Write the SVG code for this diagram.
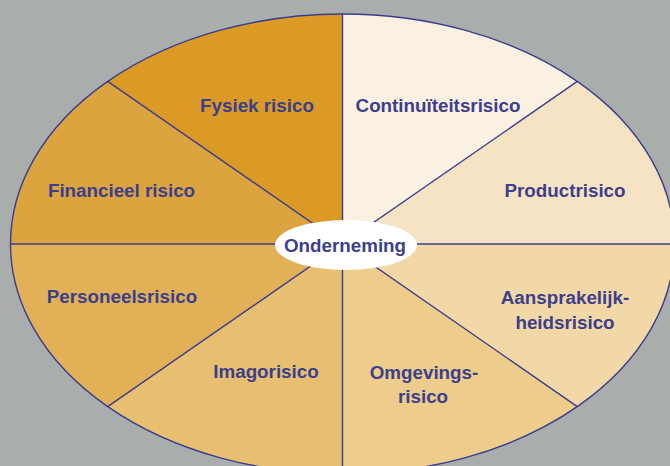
<svg xmlns="http://www.w3.org/2000/svg" width="670" height="466" viewBox="0 0 670 466">
  <style>
    .lbl { font-family: "Liberation Sans", Arial, sans-serif; font-weight: bold; font-size: 18.8px; fill: #3b3f8c; text-anchor: middle; }
    .div { stroke: #3a3d8f; stroke-width: 1.4; fill: none; }
  </style>
  <rect x="0" y="0" width="670" height="466" fill="#a9adac"/>
  <g id="fysiek">
    <path d="M342.5 244 L107.7 81.4 A332 230 0 0 1 342.5 14 Z" fill="#da9a25"/>
    <text class="lbl" x="257" y="112">Fysiek risico</text>
  </g>
  <g id="continuiteit">
    <path d="M342.5 244 L342.5 14 A332 230 0 0 1 577.3 81.4 Z" fill="#fbf1e2"/>
    <text class="lbl" x="438" y="112">Continuïteitsrisico</text>
  </g>
  <g id="product">
    <path d="M342.5 244 L577.3 81.4 A332 230 0 0 1 674.5 244 Z" fill="#f6e3c3"/>
    <text class="lbl" x="565" y="197">Productrisico</text>
  </g>
  <g id="aansprakelijkheid">
    <path d="M342.5 244 L674.5 244 A332 230 0 0 1 577.3 406.6 Z" fill="#f2d8a6"/>
    <text class="lbl" x="565" y="304">Aansprakelijk-</text>
    <text class="lbl" x="565" y="329">heidsrisico</text>
  </g>
  <g id="omgeving">
    <path d="M342.5 244 L577.3 406.6 A332 230 0 0 1 342.5 474 Z" fill="#eecc8c"/>
    <text class="lbl" x="424" y="379">Omgevings-</text>
    <text class="lbl" x="423" y="403">risico</text>
  </g>
  <g id="imago">
    <path d="M342.5 244 L342.5 474 A332 230 0 0 1 107.7 406.6 Z" fill="#e8bf70"/>
    <text class="lbl" x="266" y="378">Imagorisico</text>
  </g>
  <g id="personeel">
    <path d="M342.5 244 L107.7 406.6 A332 230 0 0 1 10.5 244 Z" fill="#e2b056"/>
    <text class="lbl" x="122" y="303">Personeelsrisico</text>
  </g>
  <g id="financieel">
    <path d="M342.5 244 L10.5 244 A332 230 0 0 1 107.7 81.4 Z" fill="#dca43f"/>
    <text class="lbl" x="121.5" y="197">Financieel risico</text>
  </g>
  <g id="connectors">
    <ellipse class="div" cx="342.5" cy="244" rx="332" ry="230"/>
    <line class="div" x1="342.5" y1="14" x2="342.5" y2="474"/>
    <line class="div" x1="10.5" y1="244" x2="674.5" y2="244"/>
    <line class="div" x1="107.7" y1="81.4" x2="577.3" y2="406.6"/>
    <line class="div" x1="577.3" y1="81.4" x2="107.7" y2="406.6"/>
  </g>
  <g id="onderneming">
    <ellipse cx="346" cy="245" rx="71" ry="25" fill="#ffffff"/>
    <text class="lbl" x="345" y="251.5">Onderneming</text>
  </g>
</svg>
